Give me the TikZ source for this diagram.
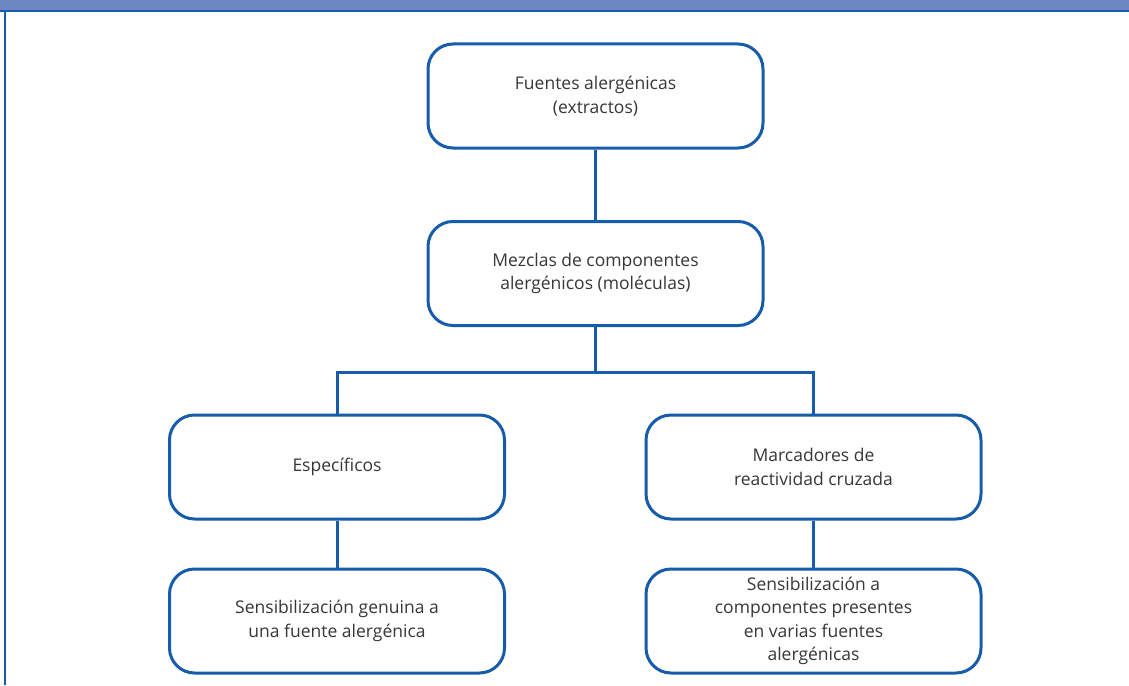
\documentclass[tikz,border=0pt]{standalone}
\usepackage{fontspec}
\setmainfont{Open Sans}
\definecolor{boxblue}{RGB}{22,92,170}
\definecolor{barfill}{RGB}{108,135,196}
\definecolor{txtgray}{RGB}{55,55,55}
\begin{document}
\begin{tikzpicture}[x=1pt,y=-1pt,
  box/.style={draw=boxblue, line width=3pt, rounded corners=25pt, fill=white,
    minimum width=335pt, minimum height=104pt, align=center, inner sep=0pt,
    text=txtgray, font=\fontsize{17.5}{23.5}\selectfont},
  link/.style={draw=boxblue, line width=3pt}]
\useasboundingbox (0,0) rectangle (1129,685);
% top bar
\fill[barfill] (0,0) rectangle (1129,10);
\draw[boxblue, line width=2pt] (0,11) -- (1129,11);
\draw[boxblue, line width=1.5pt] (5,11) -- (5,685);
% nodes
\node[box] (a) at (595.5,96) {Fuentes alergénicas\\(extractos)};
\node[box] (b) at (595.5,273.5) {Mezclas de componentes\\alergénicos (moléculas)};
\node[box] (c) at (337,467) {Específicos};
\node[box] (d) at (337,621) {Sensibilización genuina a\\una fuente alergénica};
\node[box] (e) at (813.5,467) {Marcadores de\\reactividad cruzada};
\node[box] (f) at (813.5,621) {Sensibilización a\\componentes presentes\\en varias fuentes\\alergénicas};
\coordinate (j) at (595.5,372);
% connectors
\draw[link] (a.south) -- (b.north);
\draw[link] (b.south) -- (j);
\draw[link] (c.north) |- (j) -| (e.north);
\draw[link] (c.south) -- (d.north);
\draw[link] (e.south) -- (f.north);
\end{tikzpicture}
\end{document}
